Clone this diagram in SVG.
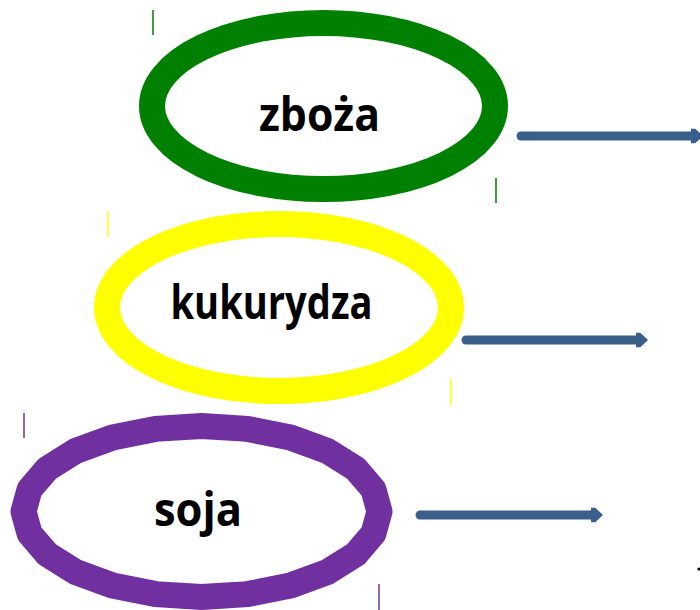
<svg xmlns="http://www.w3.org/2000/svg" width="700" height="610" viewBox="0 0 700 610">
  <style>
    .ring { fill: #ffffff; stroke-width: 26; }
    .label { font-family: "Open Sans", "Noto Sans", "Liberation Sans", sans-serif; font-weight: bold; font-size: 47px; fill: #000000; text-anchor: middle; }
    .tick { stroke-width: 1.5; }
    .arrow { stroke: #3a5f8b; stroke-width: 9; stroke-linecap: round; fill: none; }
  </style>
  <defs>
    <marker id="head" markerUnits="userSpaceOnUse" markerWidth="14" markerHeight="16" viewBox="0 0 14 16" refX="4" refY="8" orient="auto">
      <path d="M0,1.5 L4,1.5 L11,8 L4,14.5 L0,14.5 Z" fill="#3a5f8b" stroke="#3a5f8b" stroke-width="1.5" stroke-linejoin="round"/>
    </marker>
  </defs>
  <rect width="700" height="610" fill="#ffffff"/>

  <!-- cereals -->
  <g id="zboza">
    <ellipse class="ring" cx="323.5" cy="106" rx="171.5" ry="83" stroke="#008000"/>
    <line class="tick" x1="153" y1="10" x2="153" y2="35" stroke="#008000"/>
    <line class="tick" x1="496" y1="178" x2="496" y2="203" stroke="#008000"/>
    <text class="label" x="319.5" y="131" textLength="121" lengthAdjust="spacingAndGlyphs">zboża</text>
  </g>

  <!-- maize -->
  <g id="kukurydza">
    <ellipse class="ring" cx="279" cy="307.5" rx="172" ry="83.5" stroke="#ffff00"/>
    <line class="tick" x1="108" y1="211" x2="108" y2="237" stroke="#ffff00"/>
    <line class="tick" x1="451" y1="379" x2="451" y2="405" stroke="#ffff00"/>
    <text class="label" x="271.5" y="319" textLength="202" lengthAdjust="spacingAndGlyphs">kukurydza</text>
  </g>

  <!-- soy: faceted outline -->
  <g id="soja">
    <polygon class="ring" stroke="#7030a0" stroke-linejoin="round"
      points="379.5,511.5 373.4,533.6 355.7,554.3 327.4,572 290.5,585.5 247.6,594.1 201.5,597 155.4,594.1 112.5,585.5 75.6,572 47.3,554.3 29.6,533.6 23.5,511.5 29.6,489.4 47.3,468.7 75.6,451 112.5,437.5 155.4,428.9 201.5,426 247.6,428.9 290.5,437.5 327.4,451 355.7,468.7 373.4,489.4"/>
    <line class="tick" x1="24" y1="413" x2="24" y2="438" stroke="#7030a0"/>
    <line class="tick" x1="379" y1="584" x2="379" y2="610" stroke="#7030a0"/>
    <text class="label" x="198" y="526" textLength="88" lengthAdjust="spacingAndGlyphs">soja</text>
  </g>

  <!-- connectors -->
  <g id="connectors">
    <line class="arrow" x1="521" y1="136" x2="695" y2="136" marker-end="url(#head)"/>
    <line class="arrow" x1="466" y1="340" x2="640" y2="340" marker-end="url(#head)"/>
    <line class="arrow" x1="420" y1="515" x2="595" y2="515" marker-end="url(#head)"/>
  </g>

  <circle cx="699" cy="569" r="1.6" fill="#000000"/>
</svg>
